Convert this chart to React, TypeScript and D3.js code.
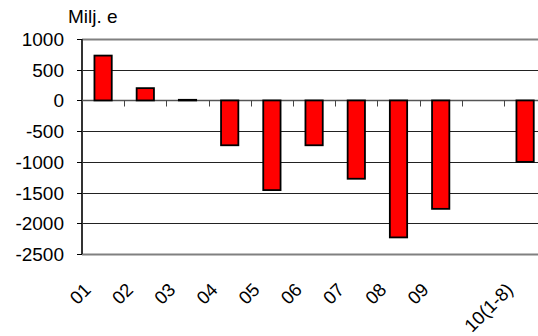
import { useRef, useEffect } from 'react'
import * as d3 from 'd3'

const WIDTH = 538
const HEIGHT = 336
const PLOT = { left: 82, top: 39, bottom: 254, step: 42.2 }

const CATEGORIES = ['01', '02', '03', '04', '05', '06', '07', '08', '09', '', '10(1-8)']
const VALUES: (number | null)[] = [730, 200, 10, -730, -1460, -730, -1275, -2230, -1765, null, -1000]
const Y_TICKS = [1000, 500, 0, -500, -1000, -1500, -2000, -2500]
const UNIT_LABEL = 'Milj. e'
const FONT = '"Liberation Sans", Arial, sans-serif'

export default function App() {
  const svgRef = useRef<SVGSVGElement>(null)

  useEffect(() => {
    if (!svgRef.current) return
    const svg = d3.select(svgRef.current)
    svg.selectAll('*').remove()

    const x = d3
      .scaleBand<number>()
      .domain(CATEGORIES.map((_c, i) => i))
      .range([PLOT.left, PLOT.left + PLOT.step * CATEGORIES.length])
      .padding(0)
    const y = d3.scaleLinear().domain([-2500, 1000]).range([PLOT.bottom, PLOT.top])
    const right = PLOT.left + PLOT.step * CATEGORIES.length

    // gridlines
    svg
      .append('g')
      .selectAll('line')
      .data(Y_TICKS)
      .join('line')
      .attr('x1', PLOT.left)
      .attr('x2', right)
      .attr('y1', (d) => Math.round(y(d)) + 0.5)
      .attr('y2', (d) => Math.round(y(d)) + 0.5)
      .attr('stroke', (d) => (d === 1000 || d === -2500 ? '#808080' : '#222'))
      .attr('stroke-width', (d) => (d === 1000 || d === -2500 ? 2 : 1))

    // y axis
    const yAxis = svg.append('g').attr('transform', `translate(${PLOT.left},0)`)
    yAxis
      .append('line')
      .attr('y1', PLOT.top)
      .attr('y2', PLOT.bottom)
      .attr('stroke', '#333')
      .attr('stroke-width', 2)
    yAxis
      .selectAll('line.tick')
      .data(Y_TICKS)
      .join('line')
      .attr('class', 'tick')
      .attr('x1', -5)
      .attr('x2', 0)
      .attr('y1', (d) => Math.round(y(d)) + 0.5)
      .attr('y2', (d) => Math.round(y(d)) + 0.5)
      .attr('stroke', '#000')
    yAxis
      .selectAll('text')
      .data(Y_TICKS)
      .join('text')
      .attr('x', -18)
      .attr('y', (d) => y(d) + 7)
      .attr('text-anchor', 'end')
      .attr('font-family', FONT)
      .attr('font-size', 19)
      .attr('fill', '#000')
      .text((d) => d)

    svg
      .append('text')
      .attr('x', 68)
      .attr('y', 23)
      .attr('font-family', FONT)
      .attr('font-size', 19)
      .attr('fill', '#000')
      .text(UNIT_LABEL)

    // zero line + category ticks
    const zeroY = Math.round(y(0)) + 0.5
    svg
      .append('line')
      .attr('x1', PLOT.left)
      .attr('x2', right)
      .attr('y1', zeroY)
      .attr('y2', zeroY)
      .attr('stroke', '#555')
      .attr('stroke-width', 1.5)
    svg
      .append('g')
      .selectAll('line')
      .data(CATEGORIES.map((_c, i) => i).slice(1))
      .join('line')
      .attr('x1', (i) => Math.round(x(i) ?? 0) + 0.5)
      .attr('x2', (i) => Math.round(x(i) ?? 0) + 0.5)
      .attr('y1', zeroY)
      .attr('y2', zeroY + 6)
      .attr('stroke', '#444')

    // bars
    const barW = x.bandwidth() * 0.41
    svg
      .append('g')
      .selectAll('rect')
      .data(VALUES.map((v, i) => ({ v, i })).filter((d) => d.v !== null))
      .join('rect')
      .attr('x', (d) => (x(d.i) ?? 0) + x.bandwidth() / 2 - barW / 2)
      .attr('width', barW)
      .attr('y', (d) => y(Math.max(0, d.v as number)))
      .attr('height', (d) => Math.max(Math.abs(y(d.v as number) - y(0)), 0.5))
      .attr('fill', '#ff0000')
      .attr('stroke', '#000')
      .attr('stroke-width', 1.8)

    // category labels
    svg
      .append('g')
      .selectAll('text')
      .data(CATEGORIES)
      .join('text')
      .attr('transform', (_d, i) => {
        const cx = (x(i) ?? 0) + x.bandwidth() / 2 - 11
        return `translate(${cx},291) rotate(-45)`
      })
      .attr('text-anchor', 'end')
      .attr('font-family', FONT)
      .attr('font-size', 18.5)
      .attr('fill', '#000')
      .text((d) => d)
  }, [])

  return (
    <svg
      ref={svgRef}
      width={WIDTH}
      height={HEIGHT}
      style={{ position: 'absolute', left: 0, top: 0, background: '#fff', display: 'block' }}
    />
  )
}
